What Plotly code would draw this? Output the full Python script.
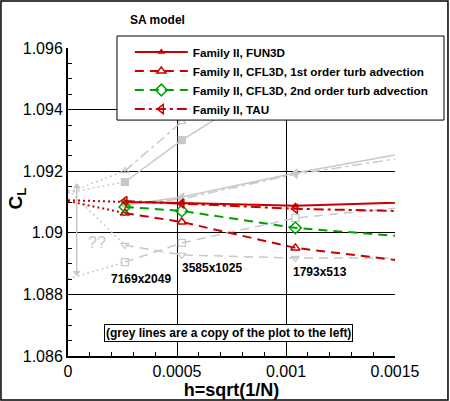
import plotly.graph_objects as go

# grid spacing h = sqrt(1/N) for 7169x2049, 3585x1025, 1793x513, 897x257
h = [0.000261, 0.000522, 0.001043, 0.002086]
grid_labels = ["7169x2049", "3585x1025", "1793x513"]
grid_label_x = [0.000335, 0.00066, 0.001156]
grid_label_y = [1.08850, 1.08886, 1.08873]

fun3d = [1.09100, 1.09097, 1.09088, 1.09110]
cfl3d_1st = [1.09064, 1.09035, 1.08951, 1.08862]
cfl3d_2nd = [1.09084, 1.09071, 1.09016, 1.08957]
tau = [1.09103, 1.09095, 1.09078, 1.09062]

# dotted extrapolation to h=0
h_extrap = [0.0, 0.000261]
fun3d_extrap = [1.09106, 1.09100]
cfl3d_1st_extrap = [1.09103, 1.09064]

# grey lines (copy of the plot to the left)
grey_a = [1.09165, 1.09301, 1.0953]
grey_b = [1.09201, 1.09360, 1.0966]
grey_c = [1.0909, 1.09116, 1.09194, 1.09328]
grey_d = [1.0909, 1.0911, 1.0919, 1.09303]
grey_e = [1.08905, 1.08967, 1.09048, 1.09121]
grey_f = [1.0896, 1.08928, 1.08918, 1.08918]
grey_a_extrap = [1.0913, 1.09165]
grey_b_extrap = [1.0913, 1.09201]
grey_e_extrap = [1.0885, 1.08905]
grey_f_extrap = [1.0914, 1.0896]

# grey spread arrow near h=0
spread_h = [0.00004, 0.00004]
spread_cl = [1.0915, 1.0887]

RED = "#c80000"
GREEN = "#00a000"
GREY = "#c8c8c8"
FONT = "Liberation Sans"

fig = go.Figure()

"""
    grey lines first so they sit underneath
"""
def grey(y, dash, symbol, filled=True, x=h):
    fig.add_trace(go.Scatter(
        x=x[:len(y)], y=y, mode="lines+markers" if symbol else "lines",
        line=dict(color=GREY, width=1.5, dash=dash),
        marker=dict(symbol=symbol if filled else symbol + "-open", size=7,
                    color=GREY, line=dict(color=GREY, width=1.2)),
        showlegend=False, hoverinfo="skip"))

grey(grey_a, "solid", "square")
grey(grey_b, "10px,4px,3px,4px", "triangle-up", filled=False)
grey(grey_c, "solid", "triangle-left")
grey(grey_d, "10px,4px,3px,4px", "triangle-left", filled=False)
grey(grey_e, "9px,6px", "square", filled=False)
grey(grey_f, "9px,6px", "triangle-down", filled=False)
for ye in [grey_a_extrap, grey_b_extrap, grey_e_extrap, grey_f_extrap]:
    grey(ye, "2px,3px", None, x=h_extrap)

fig.add_trace(go.Scatter(x=spread_h, y=spread_cl, mode="lines+markers",
                         line=dict(color=GREY, width=1.5),
                         marker=dict(symbol=["triangle-up", "triangle-down"], size=7, color=GREY),
                         showlegend=False, hoverinfo="skip"))

"""
    red dotted extrapolations
"""
for ye in [fun3d_extrap, cfl3d_1st_extrap]:
    fig.add_trace(go.Scatter(x=h_extrap, y=ye, mode="lines",
                             line=dict(color=RED, width=2, dash="2px,3px"),
                             showlegend=False, hoverinfo="skip"))

"""
    Family II curves
"""
fig.add_trace(go.Scatter(x=h, y=fun3d, mode="lines+markers", name="Family II, FUN3D",
                         line=dict(color=RED, width=2),
                         marker=dict(symbol="triangle-up", size=7, color=RED)))
fig.add_trace(go.Scatter(x=h, y=cfl3d_1st, mode="lines+markers",
                         name="Family II, CFL3D, 1st order turb advection",
                         line=dict(color=RED, width=2, dash="9px,6px"),
                         marker=dict(symbol="triangle-up-open", size=8, color=RED,
                                     line=dict(color=RED, width=1.5))))
fig.add_trace(go.Scatter(x=h, y=cfl3d_2nd, mode="lines+markers",
                         name="Family II, CFL3D, 2nd order turb advection",
                         line=dict(color=GREEN, width=2, dash="9px,6px"),
                         marker=dict(symbol="diamond-open", size=9, color=GREEN,
                                     line=dict(color=GREEN, width=1.5))))
fig.add_trace(go.Scatter(x=h, y=tau, mode="lines+markers", name="Family II, TAU",
                         line=dict(color=RED, width=2, dash="10px,4px,3px,4px"),
                         marker=dict(symbol="triangle-left-open", size=8, color=RED,
                                     line=dict(color=RED, width=1.5))))

for t, xx, yy in zip(grid_labels, grid_label_x, grid_label_y):
    fig.add_annotation(x=xx, y=yy, text=t, showarrow=False,
                       font=dict(family=FONT, size=12, color="black", weight="bold"))

fig.add_annotation(x=0.000736, y=1.08676, text="(grey lines are a copy of the plot to the left)",
                   showarrow=False, bgcolor="white", bordercolor="black", borderwidth=1,
                   borderpad=1, font=dict(family=FONT, size=12, color="black", weight="bold"))
fig.add_annotation(x=0.000135, y=1.08967, text="??", showarrow=False,
                   font=dict(family=FONT, size=16, color=GREY))
fig.add_annotation(xref="paper", yref="paper", x=0.273, y=1.09, text="SA model",
                   xanchor="center", yanchor="middle", showarrow=False,
                   font=dict(family=FONT, size=12, color="black", weight="bold"))
fig.add_annotation(xref="paper", yref="paper", x=-0.157, y=0.51, text="C<sub>L</sub>",
                   xanchor="center", yanchor="middle", textangle=-90, showarrow=False,
                   font=dict(family=FONT, size=19, color="black", weight="bold"))

# legend box and outer frame
fig.add_shape(type="rect", xref="paper", yref="paper", x0=0.1498, x1=1.1498, y0=0.766, y1=1.039,
              line=dict(color="black", width=1), fillcolor="white", layer="above")
fig.add_shape(type="rect", xref="paper", yref="paper", x0=-0.205, x1=1.162, y0=-0.143, y1=1.153,
              line=dict(color="black", width=1.5), layer="above")

fig.update_layout(
    width=450, height=401,
    margin=dict(l=68, r=55, t=48, b=45, autoexpand=False),
    paper_bgcolor="white", plot_bgcolor="white",
    font=dict(family=FONT, color="black"),
    showlegend=True,
    legend=dict(x=0.189, y=1.034, xanchor="left", yanchor="top", bgcolor="rgba(0,0,0,0)",
                borderwidth=0, itemwidth=53, tracegroupgap=0,
                font=dict(family=FONT, size=11.7, color="black", weight="bold")),
    xaxis=dict(range=[0, 0.0015], tickvals=[0, 0.0005, 0.001, 0.0015],
               ticktext=["0", "0.0005", "0.001", "0.0015"], automargin=False,
               showgrid=True, gridcolor="black", gridwidth=1, zeroline=False,
               showline=True, linecolor="black", linewidth=2,
               ticks="inside", ticklen=7, tickcolor="black", tickwidth=1,
               tickfont=dict(size=16),
               minor=dict(dtick=0.0001, ticks="inside", ticklen=4, tickcolor="black", showgrid=False),
               title=dict(text="<b>h=sqrt(1/N)</b>", font=dict(size=18), standoff=2)),
    yaxis=dict(range=[1.086, 1.096], tickvals=[1.086, 1.088, 1.09, 1.092, 1.094, 1.096],
               ticktext=["1.086", "1.088", "1.09", "1.092", "1.094", "1.096"], automargin=False,
               showgrid=True, gridcolor="black", gridwidth=1, zeroline=False,
               showline=True, linecolor="black", linewidth=2,
               ticks="inside", ticklen=7, tickcolor="black", tickwidth=1,
               tickfont=dict(size=16),
               minor=dict(dtick=0.0005, ticks="inside", ticklen=4, tickcolor="black", showgrid=False)),
)

fig.write_html("out.html", config={"displayModeBar": False},
               post_script="document.body.style.margin='0';")
